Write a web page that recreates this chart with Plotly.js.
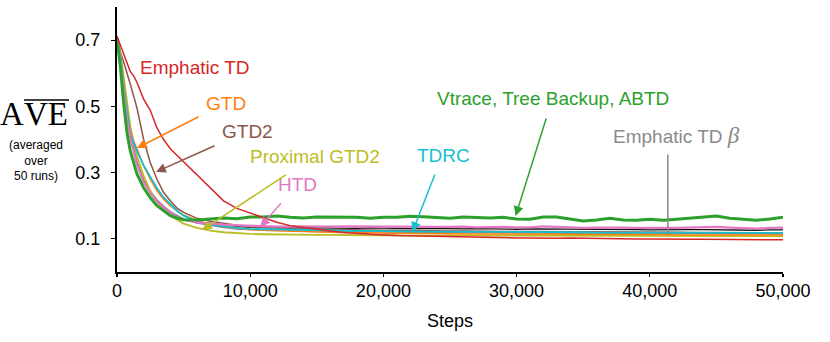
<!DOCTYPE html>
<html>
<head>
<meta charset="utf-8">
<script src="https://cdn.plot.ly/plotly-3.0.1.min.js"></script>
<style>
  html, body { margin: 0; padding: 0; background: #fff; }
  #chart { width: 830px; height: 342px; }
</style>
</head>
<body>
<div id="chart"></div>
<script>
// Average AVE over 50 runs vs training steps
const steps = [0, 250, 500, 750, 1000, 1250, 1500, 2000, 2500, 3000, 3500, 4000, 4500, 5000,
  6000, 7000, 8000, 9000, 10000,
  11000, 12000, 13000, 14000, 15000, 16000, 17000, 18000, 19000, 20000,
  21000, 22000, 23000, 24000, 25000, 26000, 27000, 28000, 29000, 30000,
  31000, 32000, 33000, 34000, 35000, 36000, 37000, 38000, 39000, 40000,
  41000, 42000, 43000, 44000, 45000, 46000, 47000, 48000, 49000, 50000];

const emphaticTD = [0.712, 0.685, 0.655, 0.632, 0.605, 0.592, 0.572, 0.522, 0.488, 0.435, 0.400, 0.372, 0.352, 0.334, 0.292, 0.252, 0.215, 0.192, 0.178,
  0.162, 0.150, 0.140, 0.134, 0.128, 0.124, 0.119, 0.116, 0.113, 0.112,
  0.110, 0.109, 0.108, 0.107, 0.106, 0.106, 0.105, 0.104, 0.103, 0.103,
  0.103, 0.102, 0.102, 0.103, 0.102, 0.101, 0.101, 0.100, 0.100, 0.100,
  0.099, 0.099, 0.099, 0.099, 0.099, 0.097, 0.097, 0.097, 0.097, 0.097];

const vtraceTBABTD = [0.705, 0.620, 0.510, 0.420, 0.365, 0.333, 0.296, 0.254, 0.224, 0.200, 0.184, 0.170, 0.163, 0.158, 0.157, 0.160, 0.163, 0.161, 0.166,
  0.166, 0.169, 0.165, 0.163, 0.166, 0.166, 0.165, 0.165, 0.162, 0.165,
  0.165, 0.168, 0.167, 0.165, 0.162, 0.166, 0.165, 0.163, 0.165, 0.160,
  0.159, 0.166, 0.166, 0.159, 0.154, 0.157, 0.162, 0.157, 0.156, 0.159,
  0.156, 0.159, 0.162, 0.167, 0.169, 0.162, 0.159, 0.156, 0.160, 0.165];

const htd = [0.710, 0.640, 0.545, 0.460, 0.405, 0.360, 0.325, 0.272, 0.238, 0.213, 0.194, 0.178, 0.166, 0.158, 0.150, 0.146, 0.143, 0.141, 0.139,
  0.138, 0.137, 0.138, 0.137, 0.136, 0.137, 0.138, 0.137, 0.136, 0.137,
  0.137, 0.136, 0.137, 0.136, 0.136, 0.137, 0.135, 0.136, 0.136, 0.135,
  0.135, 0.138, 0.136, 0.134, 0.133, 0.134, 0.135, 0.134, 0.133, 0.134,
  0.133, 0.133, 0.134, 0.134, 0.136, 0.134, 0.132, 0.131, 0.133, 0.134];

const tdBlack = [0.710, 0.645, 0.550, 0.470, 0.410, 0.365, 0.330, 0.275, 0.240, 0.215, 0.195, 0.178, 0.166, 0.158, 0.151, 0.146, 0.141, 0.138, 0.135,
  0.134, 0.134, 0.133, 0.134, 0.133, 0.132, 0.133, 0.132, 0.133, 0.132,
  0.132, 0.131, 0.132, 0.131, 0.131, 0.130, 0.131, 0.130, 0.130, 0.129,
  0.130, 0.130, 0.129, 0.128, 0.129, 0.128, 0.129, 0.128, 0.128, 0.127,
  0.128, 0.127, 0.128, 0.128, 0.127, 0.128, 0.127, 0.126, 0.127, 0.127];

const tdrc = [0.710, 0.655, 0.560, 0.480, 0.415, 0.390, 0.365, 0.322, 0.287, 0.253, 0.225, 0.204, 0.185, 0.170, 0.152, 0.143, 0.137, 0.133, 0.130,
  0.129, 0.128, 0.127, 0.126, 0.126, 0.125, 0.125, 0.124, 0.124, 0.123,
  0.123, 0.123, 0.122, 0.122, 0.122, 0.122, 0.121, 0.121, 0.121, 0.121,
  0.120, 0.121, 0.120, 0.120, 0.120, 0.119, 0.120, 0.119, 0.119, 0.119,
  0.119, 0.119, 0.118, 0.118, 0.119, 0.118, 0.118, 0.118, 0.118, 0.118];

const gtd = [0.710, 0.660, 0.575, 0.490, 0.430, 0.395, 0.372, 0.320, 0.280, 0.245, 0.220, 0.200, 0.185, 0.172, 0.155, 0.145, 0.138, 0.132, 0.128,
  0.126, 0.124, 0.123, 0.122, 0.121, 0.120, 0.119, 0.119, 0.118, 0.117,
  0.117, 0.117, 0.116, 0.116, 0.116, 0.115, 0.115, 0.115, 0.115, 0.115,
  0.114, 0.114, 0.114, 0.114, 0.113, 0.114, 0.113, 0.113, 0.113, 0.113,
  0.113, 0.112, 0.113, 0.112, 0.112, 0.112, 0.112, 0.112, 0.111, 0.112];

const proximalGTD2 = [0.710, 0.665, 0.590, 0.510, 0.440, 0.390, 0.350, 0.290, 0.245, 0.212, 0.188, 0.170, 0.157, 0.146, 0.133, 0.125, 0.120, 0.117, 0.115,
  0.114, 0.113, 0.113, 0.112, 0.112, 0.112, 0.111, 0.111, 0.111, 0.111,
  0.110, 0.110, 0.110, 0.110, 0.110, 0.109, 0.110, 0.109, 0.109, 0.109,
  0.109, 0.109, 0.110, 0.109, 0.108, 0.109, 0.109, 0.108, 0.109, 0.108,
  0.108, 0.109, 0.108, 0.108, 0.108, 0.109, 0.108, 0.108, 0.108, 0.108];

const gtd2 = [0.710, 0.664, 0.634, 0.604, 0.567, 0.531, 0.495, 0.400, 0.330, 0.280, 0.240, 0.215, 0.193, 0.180, 0.162, 0.153, 0.146, 0.141, 0.136,
  0.134, 0.132, 0.131, 0.130, 0.129, 0.128, 0.128, 0.127, 0.127, 0.126,
  0.126, 0.125, 0.125, 0.124, 0.124, 0.124, 0.123, 0.123, 0.123, 0.122,
  0.122, 0.122, 0.122, 0.121, 0.121, 0.121, 0.121, 0.120, 0.120, 0.120,
  0.120, 0.120, 0.119, 0.119, 0.119, 0.119, 0.119, 0.118, 0.118, 0.118];

const emphaticTDBeta = [0.710, 0.645, 0.550, 0.470, 0.410, 0.365, 0.330, 0.277, 0.243, 0.218, 0.198, 0.182, 0.170, 0.160, 0.148, 0.140, 0.134, 0.130, 0.127,
  0.126, 0.125, 0.124, 0.124, 0.123, 0.123, 0.122, 0.122, 0.121, 0.121,
  0.121, 0.120, 0.120, 0.120, 0.119, 0.119, 0.119, 0.118, 0.118, 0.118,
  0.118, 0.118, 0.117, 0.117, 0.117, 0.117, 0.117, 0.116, 0.115, 0.116,
  0.115, 0.116, 0.116, 0.116, 0.116, 0.116, 0.115, 0.116, 0.115, 0.115];

const yTicks = [0.1, 0.3, 0.5, 0.7];
const xTicks = [0, 10000, 20000, 30000, 40000, 50000];

const SANS = 'Liberation Sans, Arial, sans-serif';
const SERIF = 'Liberation Serif, Times New Roman, serif';

const series = [
  {name: 'Emphatic TD β', y: emphaticTDBeta, color: '#8a8a8a', width: 1.5},
  {name: 'TD', y: tdBlack, color: '#111111', width: 1.3},
  {name: 'GTD2', y: gtd2, color: '#8c564b', width: 1.5},
  {name: 'Proximal GTD2', y: proximalGTD2, color: '#bcbd22', width: 1.8},
  {name: 'GTD', y: gtd, color: '#ff7f0e', width: 1.5},
  {name: 'TDRC', y: tdrc, color: '#17becf', width: 1.8},
  {name: 'HTD', y: htd, color: '#e377c2', width: 2.2},
  {name: 'Vtrace, Tree Backup, ABTD', y: vtraceTBABTD, color: '#2ca02c', width: 3},
  {name: 'Emphatic TD', y: emphaticTD, color: '#d62728', width: 1.5},
];

const traces = series.map(s => ({
  x: steps, y: s.y, type: 'scatter', mode: 'lines', name: s.name,
  line: {color: s.color, width: s.width}, hoverinfo: 'skip'
}));

// curve labels: [text, x, y, color]
const labels = [
  ['Emphatic TD', 5790, 0.618, '#d62728'],
  ['GTD', 8196, 0.510, '#ff7f0e'],
  ['GTD2', 9775, 0.425, '#8c564b'],
  ['Proximal GTD2', 14888, 0.350, '#bcbd22'],
  ['HTD', 13534, 0.265, '#e377c2'],
  ['TDRC', 24512, 0.353, '#17becf'],
  ['Vtrace, Tree Backup, ABTD', 32707, 0.525, '#2ca02c'],
  ['Emphatic TD <span style="font-family:Liberation Serif;font-size:23px"><i>β</i></span>', 42030, 0.413, '#8a8a8a'],
];

// pointers: [headX, headY, tailX, tailY, color, head]
const pointers = [
  [1504, 0.374, 6241, 0.471, '#ff7f0e', 2],
  [2932, 0.302, 7444, 0.383, '#8c564b', 2],
  [6391, 0.127, 12782, 0.296, '#bcbd22', 2],
  [10752, 0.136, 12406, 0.212, '#e377c2', 2],
  [22181, 0.121, 23910, 0.299, '#17becf', 2],
  [29925, 0.169, 32256, 0.468, '#2ca02c', 2],
  [41354, 0.112, 41354, 0.359, '#8a8a8a', 0],
];

// pixel -> paper helpers for the y-axis caption
const px = v => (v - 117) / 666;
const py = v => (272 - v) / 265;

const annotations = labels.map(l => ({
  text: l[0], x: l[1], y: l[2], xref: 'x', yref: 'y', showarrow: false,
  xanchor: 'center', yanchor: 'middle', font: {family: SANS, size: 19, color: l[3]}
})).concat(pointers.map(p => ({
  text: '', x: p[0], y: p[1], ax: p[2], ay: p[3], xref: 'x', yref: 'y', axref: 'x', ayref: 'y',
  showarrow: true, arrowhead: p[5], arrowsize: 1.3, arrowwidth: 1.5, arrowcolor: p[4],
  standoff: 0, startstandoff: 0
}))).concat([
  {text: 'A', xref: 'paper', yref: 'paper', x: px(25), y: py(114), showarrow: false,
   xanchor: 'right', yanchor: 'middle', borderpad: 0, font: {family: SERIF, size: 33, color: '#000'}},
  {text: 'VE', xref: 'paper', yref: 'paper', x: px(23), y: py(114), showarrow: false,
   xanchor: 'left', yanchor: 'middle', borderpad: 0, font: {family: SERIF, size: 33, color: '#000'}},
  {text: '(averaged<br>over<br>50 runs)', xref: 'paper', yref: 'paper', x: px(36), y: py(160), showarrow: false,
   xanchor: 'center', yanchor: 'middle', font: {family: SANS, size: 12, color: '#000'}},
]);

const layout = {
  width: 830, height: 342,
  margin: {l: 117, r: 47, t: 7, b: 70},
  paper_bgcolor: '#fff', plot_bgcolor: '#fff',
  showlegend: false,
  font: {family: SANS, color: '#000'},
  xaxis: {
    range: [0, 50000], tickvals: xTicks, tickformat: ',d',
    showgrid: false, zeroline: false, showline: true, linecolor: '#000', linewidth: 2,
    ticks: 'outside', ticklen: 3, tickwidth: 1.2, tickcolor: '#000',
    tickfont: {family: SANS, size: 18}, ticklabelstandoff: -2,
    title: {text: 'Steps', font: {family: SANS, size: 18}, standoff: 15}
  },
  yaxis: {
    range: [0, 0.8], tickvals: yTicks, ticktext: yTicks.map(v => v.toFixed(1)),
    showgrid: false, zeroline: false, showline: true, linecolor: '#000', linewidth: 2,
    ticks: 'outside', ticklen: 4, tickwidth: 1.2, tickcolor: '#000',
    tickfont: {family: SANS, size: 18}, ticklabelstandoff: 7
  },
  shapes: [
    {type: 'line', xref: 'paper', yref: 'paper', x0: px(24), x1: px(69), y0: py(100), y1: py(100),
     line: {color: '#000', width: 1.5}}
  ],
  annotations: annotations
};

Plotly.newPlot('chart', traces, layout, {displayModeBar: false, staticPlot: true});
</script>
</body>
</html>
